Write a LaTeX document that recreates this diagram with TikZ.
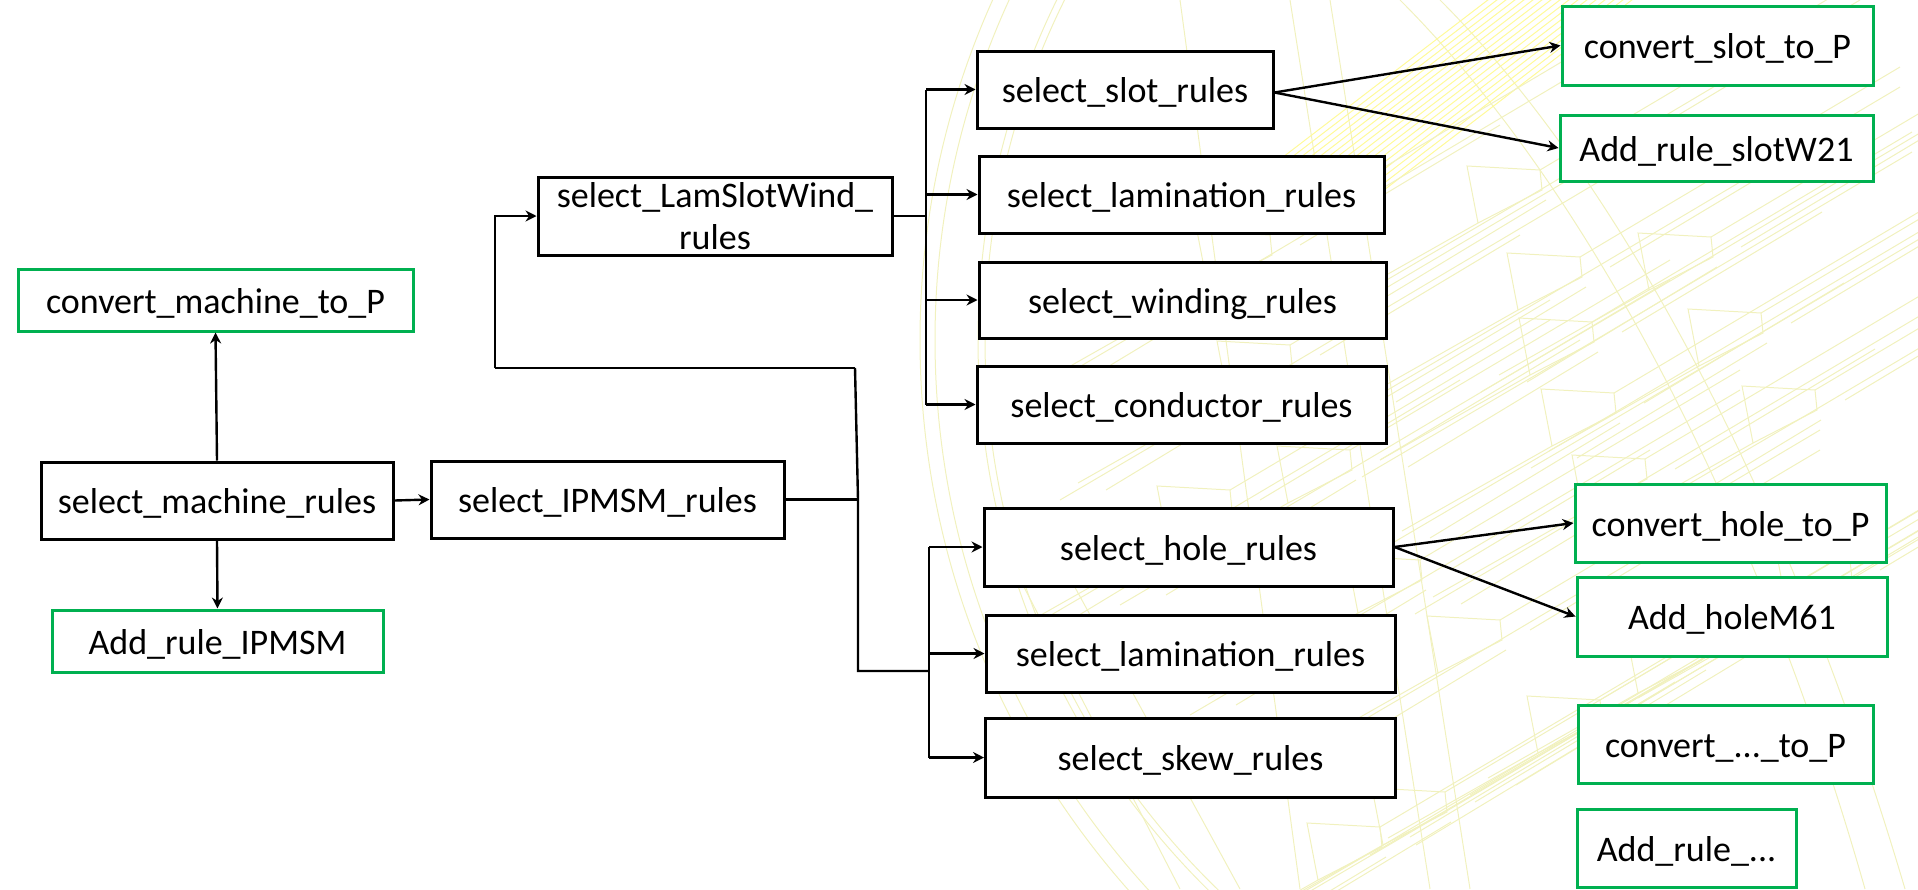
\documentclass[tikz,border=0pt]{standalone}
\usepackage{fontspec}
\setmainfont{Carlito}
\usepackage{xcolor}
\usetikzlibrary{positioning, arrows.meta}
\definecolor{leafgreen}{HTML}{00B050}
\definecolor{wireyellow}{HTML}{F1F1BE}

\begin{document}
\begin{tikzpicture}[
    x=1pt, y=-1pt,
    rulenode/.style={rectangle, draw=black, fill=white, line width=3pt, inner sep=0pt, align=center,
        text height=28pt, text depth=2pt, font=\fontsize{36}{42}\selectfont},
    leafnode/.style={rulenode, draw=leafgreen},
    edge/.style={-{Stealth[length=11pt, width=11pt]}, line width=2.4pt},
    trunk/.style={line width=2.4pt},
    wire/.style={draw=wireyellow, line width=1pt}
]

\useasboundingbox (0,0) rectangle (1918,889);

% Фон: каркас машины
\begin{scope}
\clip (0,0) rectangle (1918,889);
\foreach \r in {830,815,772,765} {
    \draw[wire] (1750,340) circle (\r);
}
\draw[wire] (1440,0) .. controls (1620,180) and (1790,500) .. (1905,889);
\draw[wire] (1400,0) .. controls (1590,190) and (1760,520) .. (1865,889);
\draw[wire] (1330,0) -- (1470,889);
\draw[wire] (1290,0) -- (1430,889);
\draw[wire] (1180,0) -- (1300,889);
\draw[wire] (1010,560) -- (1180,889);
\draw[wire] (1060,560) -- (1240,889);
\foreach \d in {0,9,...,150} {
    \draw[wire, draw=yellow!40] (1240+\d,190) -- ++(300,-230);
}
\foreach \tx/\ty in {1580/257,1592/322,1614/393,1645/459,1711/237,1761/313,1815/390,1445/792,1380/827,1600/700,1700/640,1270/235,1290/345,1230/490,1350/450,1420/560,1500/620,1540/170,1850/560} {
    \draw[wire] (\tx,\ty) -- ++(-73,-4) -- ++(11,57) -- ++(64,-33) -- cycle;
    \draw[wire] (\tx-62,\ty+53) -- ++(-150,85);
    \draw[wire] (\tx,\ty+20) -- ++(-230,135);
    \draw[wire] (\tx+6,\ty+30) -- ++(-190,115);
    \draw[wire] (\tx,\ty) -- ++(320,-190);
    \draw[wire] (\tx,\ty+20) -- ++(320,-190);
    \draw[wire] (\tx+30,\ty+10) -- ++(200,-120);
}
\end{scope}

% Левая часть
\node[rulenode, minimum width=352pt, minimum height=77pt] (machine) at (217,500.5) {select\_machine\_rules};
\node[rulenode, minimum width=353pt, minimum height=77pt] (ipmsm) at (607.5,499.5) {select\_IPMSM\_rules};
\node[leafnode, minimum width=395pt, minimum height=62pt] (machineP) at (215.5,300) {convert\_machine\_to\_P};
\node[leafnode, minimum width=331pt, minimum height=62pt] (machineAdd) at (217.5,641) {Add\_rule\_IPMSM};
\node[rulenode, minimum width=354pt, minimum height=78pt, text height=72pt, text depth=6pt] (lamslot) at (715,216) {select\_LamSlotWind\_\\rules};

% Верхняя ветка
\node[rulenode, minimum width=296pt, minimum height=77pt] (slot) at (1125,89.5) {select\_slot\_rules};
\node[rulenode, minimum width=405pt, minimum height=77pt] (lamone) at (1181.5,194.5) {select\_lamination\_rules};
\node[rulenode, minimum width=407pt, minimum height=76pt] (winding) at (1182.5,300) {select\_winding\_rules};
\node[rulenode, minimum width=409pt, minimum height=77pt] (conductor) at (1181.5,404.5) {select\_conductor\_rules};
\node[leafnode, minimum width=311pt, minimum height=79pt] (slotP) at (1717.5,45.5) {convert\_slot\_to\_P};
\node[leafnode, minimum width=313pt, minimum height=66pt] (slotAdd) at (1716.5,148) {Add\_rule\_slotW21};

% Нижняя ветка
\node[rulenode, minimum width=409pt, minimum height=78pt] (hole) at (1188.5,547) {select\_hole\_rules};
\node[rulenode, minimum width=409pt, minimum height=77pt] (lamtwo) at (1190.5,653.5) {select\_lamination\_rules};
\node[rulenode, minimum width=410pt, minimum height=79pt] (skew) at (1190.5,757.5) {select\_skew\_rules};
\node[leafnode, minimum width=311pt, minimum height=78pt] (holeP) at (1730.5,523) {convert\_hole\_to\_P};
\node[leafnode, minimum width=310pt, minimum height=79pt] (holeAdd) at (1732,616.5) {Add\_holeM61};
\node[leafnode, minimum width=295pt, minimum height=78pt] (otherP) at (1725.5,744) {convert\_...\_to\_P};
\node[leafnode, minimum width=219pt, minimum height=78pt] (otherAdd) at (1686.5,848) {Add\_rule\_...};

% Точки ветвления
\coordinate (busA) at (926,214);
\coordinate (busB) at (929,671);
\coordinate (trunkUp) at (855,368);
\coordinate (trunkMid) at (858,500);
\coordinate (trunkLow) at (858,671);
\coordinate (lamCorner) at (495,368);

% Стрелки от select_machine_rules
\draw[edge] (machine.north) -- (machineP.south);
\draw[edge] (machine.south) -- (machineAdd.north);
\draw[edge] (machine.east) -- (ipmsm.west);

% Ствол от select_IPMSM_rules
\draw[trunk] (ipmsm.east) -- (ipmsm.east -| trunkMid);
\draw[trunk] (trunkUp) -- (trunkMid) -- (trunkLow) -- (busB);
\draw[trunk] (trunkUp) -- (lamCorner);
\draw[edge] (lamCorner) -- (lamCorner |- lamslot.west) -- (lamslot.west);

% Шины
\draw[trunk] (lamslot.east) -- (lamslot.east -| busA);
\draw[trunk] (slot.west -| busA) -- (conductor.west -| busA);
\foreach \n in {slot,lamone,winding,conductor} {
    \draw[edge] (\n.west -| busA) -- (\n.west);
}
\draw[trunk] (hole.west -| busB) -- (skew.west -| busB);
\foreach \n in {hole,lamtwo,skew} {
    \draw[edge] (\n.west -| busB) -- (\n.west);
}

% Стрелки к зелёным блокам
\draw[edge] ([yshift=-3pt]slot.east) -- (slotP.west);
\draw[edge] ([yshift=-3pt]slot.east) -- (slotAdd.west);
\draw[edge] (hole.east) -- (holeP.west);
\draw[edge] (hole.east) -- (holeAdd.west);

\end{tikzpicture}
\end{document}
